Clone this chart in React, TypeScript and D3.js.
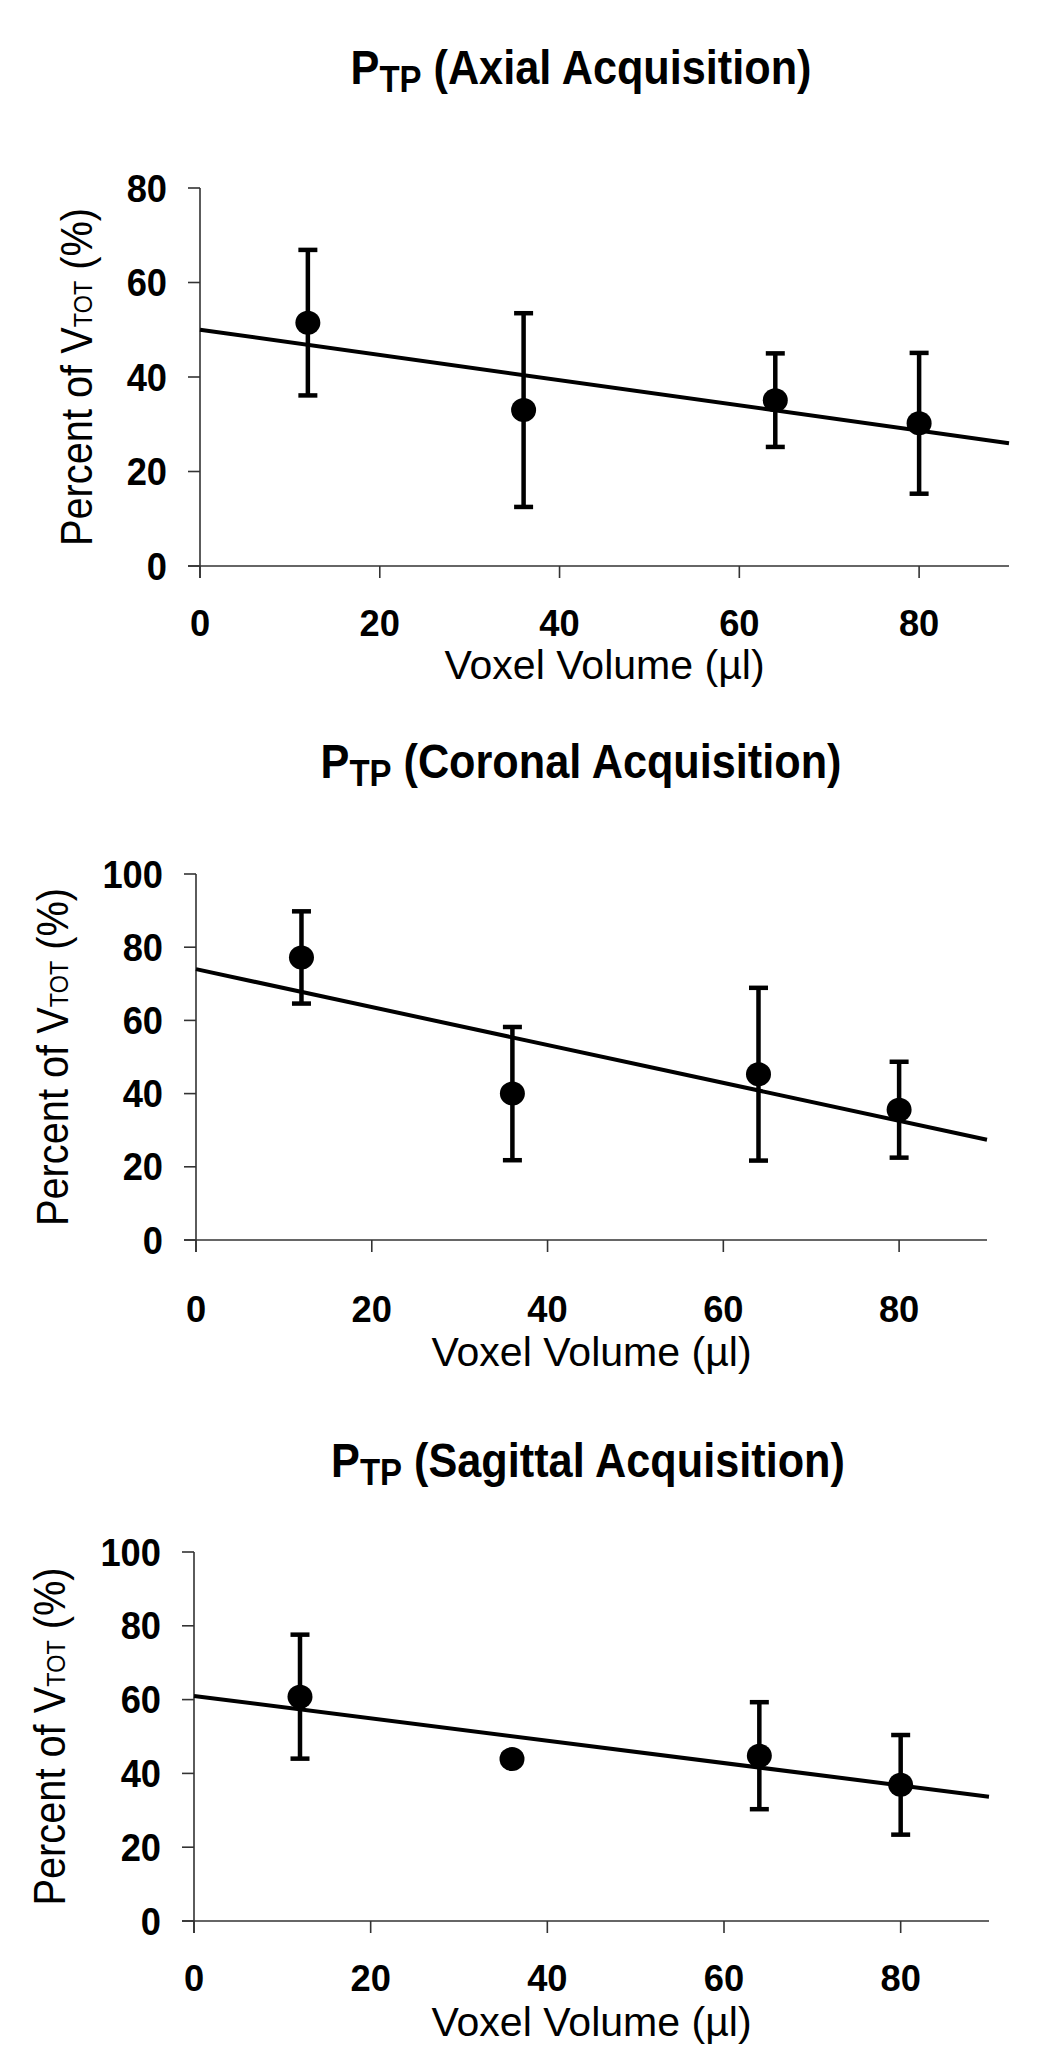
import React from "react";
import * as d3 from "d3";

// ---- data ----
const voxelVolumes = [12, 36, 64, 80];

const axialMeans = [51.5, 33.0, 35.1, 30.2];
const axialErrors = [15.4, 20.5, 9.9, 14.9];
const axialTrend = [50.0, 26.0]; // trend-line value at x = 0 and x = 90

const coronalMeans = [77.2, 40.0, 45.3, 35.6];
const coronalErrors = [12.6, 18.2, 23.6, 13.1];
const coronalTrend = [74.0, 27.4];

const sagittalMeans = [60.8, 43.9, 44.8, 36.9];
const sagittalErrors = [16.8, 0, 14.5, 13.5];
const sagittalTrend = [61.0, 33.7];

const xDomain = [0, 90];
const xTicks = [0, 20, 40, 60, 80];
const axialYTicks = [0, 20, 40, 60, 80];
const percentYTicks = [0, 20, 40, 60, 80, 100];

const titleNames = ["Axial", "Coronal", "Sagittal"];
const xAxisTitle = "Voxel Volume (µl)";

// ---- layout (positions / styles only) ----
const FONT = "'Liberation Sans', Arial, Helvetica, sans-serif";

const panels = [
  {
    name: titleNames[0], means: axialMeans, errors: axialErrors, trend: axialTrend, yTicks: axialYTicks,
    left: 200, right: 1009, top: 188, bottom: 566, titleX: 581, titleY: 84,
    tickLabelOff: 70, xTitleOff: 113, yLabelX: 92,
  },
  {
    name: titleNames[1], means: coronalMeans, errors: coronalErrors, trend: coronalTrend, yTicks: percentYTicks,
    left: 196, right: 987, top: 874, bottom: 1240, titleX: 581, titleY: 778,
    tickLabelOff: 82, xTitleOff: 126, yLabelX: 68,
  },
  {
    name: titleNames[2], means: sagittalMeans, errors: sagittalErrors, trend: sagittalTrend, yTicks: percentYTicks,
    left: 194, right: 989, top: 1552, bottom: 1921, titleX: 588, titleY: 1477,
    tickLabelOff: 70, xTitleOff: 115, yLabelX: 65,
  },
];

function Panel({ p }: { p: any }) {
  const yMax = p.yTicks[p.yTicks.length - 1];
  const x = d3.scaleLinear().domain(xDomain).range([p.left, p.right]);
  const y = d3.scaleLinear().domain([0, yMax]).range([p.bottom, p.top]);
  const tick = 12;
  const axisColor = "#333";
  const trendLine = d3.line<[number, number]>().x((d) => x(d[0])).y((d) => y(d[1]));
  const trendPts: [number, number][] = [
    [xDomain[0], p.trend[0]],
    [xDomain[1], p.trend[1]],
  ];
  const yMid = (p.top + p.bottom) / 2;

  return (
    <g>
      {/* title */}
      <g transform={`translate(${p.titleX},${p.titleY}) scale(1.03,1.15)`}>
        <text textAnchor="middle" fontFamily={FONT} fontWeight="bold" fontSize={42} fill="#000">
          <tspan>P</tspan>
          <tspan fontSize={32} dy={7}>TP</tspan>
          <tspan dy={-7}>{` (${p.name} Acquisition)`}</tspan>
        </text>
      </g>

      {/* axes */}
      <line x1={x(0)} x2={x(0)} y1={y(yMax)} y2={p.bottom + tick} stroke={axisColor} strokeWidth={1.6} />
      <line x1={x(0) - tick} x2={p.right} y1={p.bottom} y2={p.bottom} stroke={axisColor} strokeWidth={1.6} />
      {p.yTicks.map((t: number) => (
        <g key={"yt" + t}>
          <line x1={x(0) - tick} x2={x(0)} y1={y(t)} y2={y(t)} stroke={axisColor} strokeWidth={1.6} />
          <g transform={`translate(${x(0) - 33},${y(t)}) scale(1.1,1.15)`}>
            <text textAnchor="end" dy="0.36em" fontFamily={FONT} fontWeight="bold" fontSize={33} fill="#000">
              {t}
            </text>
          </g>
        </g>
      ))}
      {xTicks.map((t) => (
        <g key={"xt" + t}>
          <line x1={x(t)} x2={x(t)} y1={p.bottom} y2={p.bottom + tick} stroke={axisColor} strokeWidth={1.6} />
          <g transform={`translate(${x(t)},${p.bottom + p.tickLabelOff}) scale(1.1,1.1)`}>
            <text textAnchor="middle" fontFamily={FONT} fontWeight="bold" fontSize={33} fill="#000">
              {t}
            </text>
          </g>
        </g>
      ))}

      {/* axis titles */}
      <g transform={`translate(${(p.left + p.right) / 2},${p.bottom + p.xTitleOff}) scale(1.08,1.06)`}>
        <text textAnchor="middle" fontFamily={FONT} fontSize={38} fill="#000">
          {xAxisTitle}
        </text>
      </g>
      <g transform={`translate(${p.yLabelX},${yMid}) scale(1.12,1.02) rotate(-90)`}>
        <text textAnchor="middle" fontFamily={FONT} fontSize={39} fill="#000">
          <tspan>Percent of V</tspan>
          <tspan fontSize={23}>TOT</tspan>
          <tspan>{" (%)"}</tspan>
        </text>
      </g>

      {/* trend line */}
      <path d={trendLine(trendPts) || ""} stroke="#000" strokeWidth={4} fill="none" />

      {/* error bars and points */}
      {voxelVolumes.map((v, i) => {
        const m = p.means[i];
        const e = p.errors[i];
        const cx = x(v);
        return (
          <g key={"pt" + i}>
            {e > 0 && (
              <g stroke="#000" strokeWidth={4.5}>
                <line x1={cx} x2={cx} y1={y(m + e)} y2={y(m - e)} />
                <line x1={cx - 9.5} x2={cx + 9.5} y1={y(m + e)} y2={y(m + e)} />
                <line x1={cx - 9.5} x2={cx + 9.5} y1={y(m - e)} y2={y(m - e)} />
              </g>
            )}
            <ellipse cx={cx} cy={y(m)} rx={12.5} ry={12} fill="#000" />
          </g>
        );
      })}
    </g>
  );
}

export default function App() {
  return (
    <svg
      width={1050}
      height={2072}
      viewBox="0 0 1050 2072"
      style={{ position: "absolute", left: 0, top: 0, background: "#fff" }}
    >
      <rect x={0} y={0} width={1050} height={2072} fill="#fff" />
      {panels.map((p, i) => (
        <Panel key={i} p={p} />
      ))}
    </svg>
  );
}
